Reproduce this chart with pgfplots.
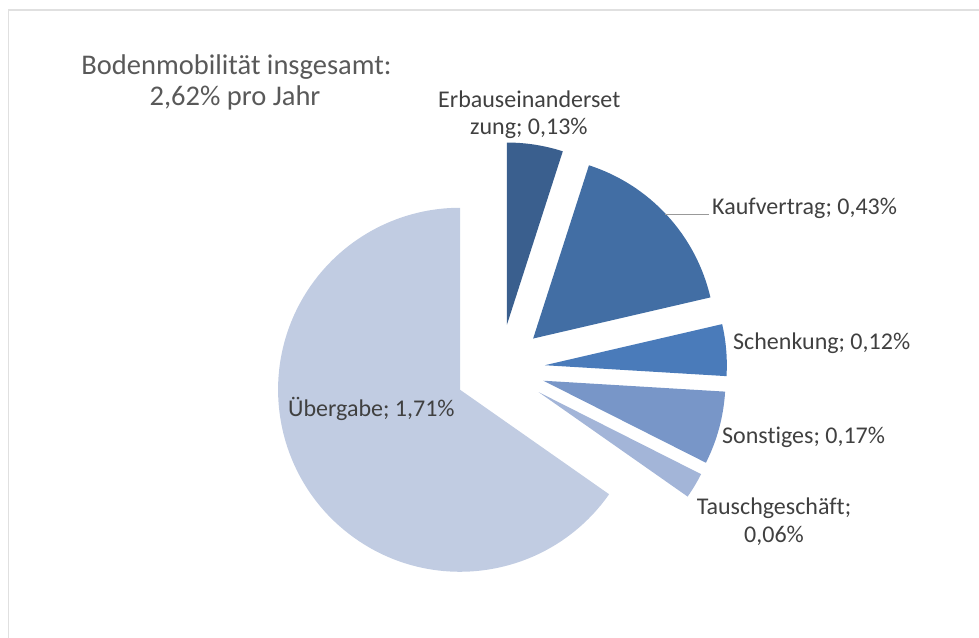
\documentclass[border=0pt]{standalone}
\usepackage{pgfplots}
\pgfplotsset{compat=1.18}
\usepackage{fontspec}
\setmainfont{Carlito}[Ligatures=NoCommon]
\definecolor{cA}{HTML}{3A5F8E}
\definecolor{cB}{HTML}{426EA4}
\definecolor{cC}{HTML}{4A7BBA}
\definecolor{cD}{HTML}{7896C8}
\definecolor{cE}{HTML}{A3B5D8}
\definecolor{cF}{HTML}{C1CCE2}
\definecolor{lbl}{HTML}{404040}
\definecolor{ttl}{HTML}{595959}
\begin{document}
\begin{tikzpicture}
\path[use as bounding box] (0,0) rectangle (979bp,638bp);
\begin{axis}[scale only axis, width=979bp, height=638bp,
  xmin=0, xmax=979, ymin=0, ymax=638, hide axis, clip=false]
% frame
\addplot[draw=black!12, line width=1.2bp] coordinates {(8.5,0) (8.5,628) (979,628)};
% pie slices: value / colour (clockwise from 12 o'clock)
\pgfplotsextra{
  \xdef\cum{0}
  \foreach \v/\col in {0.13/cA,0.43/cB,0.12/cC,0.17/cD,0.06/cE,1.71/cF}{
    \pgfmathsetmacro{\a}{90-\cum/2.62*360}
    \pgfmathsetmacro{\b}{\a-\v/2.62*360}
    \pgfmathsetmacro{\m}{(\a+\b)/2}
    \pgfmathsetmacro{\vx}{500+45*cos(\m)}
    \pgfmathsetmacro{\vy}{269+45*sin(\m)}
    \fill[\col] (axis cs:\vx,\vy) -- ++(\a:182bp) arc[start angle=\a, end angle=\b, radius=182bp] -- cycle;
    \pgfmathsetmacro{\newcum}{\cum+\v}
    \xdef\cum{\newcum}
  }
}
% leader line
\addplot[draw=black!40, line width=0.8bp] coordinates {(665,424) (709,424)};
% labels
\begin{scope}[every node/.style={inner sep=0pt, text=lbl, font=\fontsize{24bp}{29bp}\selectfont}]
\node[anchor=base west] at (axis cs:438,530) {Erbauseinanderset};
\node[anchor=base west] at (axis cs:470,503) {zung; 0,13\%};
\node[anchor=base west] at (axis cs:712,423) {Kaufvertrag; 0,43\%};
\node[anchor=base west] at (axis cs:733,288) {Schenkung; 0,12\%};
\node[anchor=base west] at (axis cs:722,194) {Sonstiges; 0,17\%};
\node[anchor=base] at (axis cs:774,123) {Tauschgeschäft;};
\node[anchor=base] at (axis cs:774,95) {0,06\%};
\node[anchor=base west] at (axis cs:288,221) {Übergabe; 1,71\%};
\end{scope}
\begin{scope}[every node/.style={inner sep=0pt, text=ttl, font=\fontsize{28.5bp}{31bp}\selectfont}]
\node[anchor=base] at (axis cs:236.5,563) {Bodenmobilität insgesamt:};
\node[anchor=base] at (axis cs:235,532.5) {2,62\% pro Jahr};
\end{scope}
\end{axis}
\end{tikzpicture}
\end{document}
